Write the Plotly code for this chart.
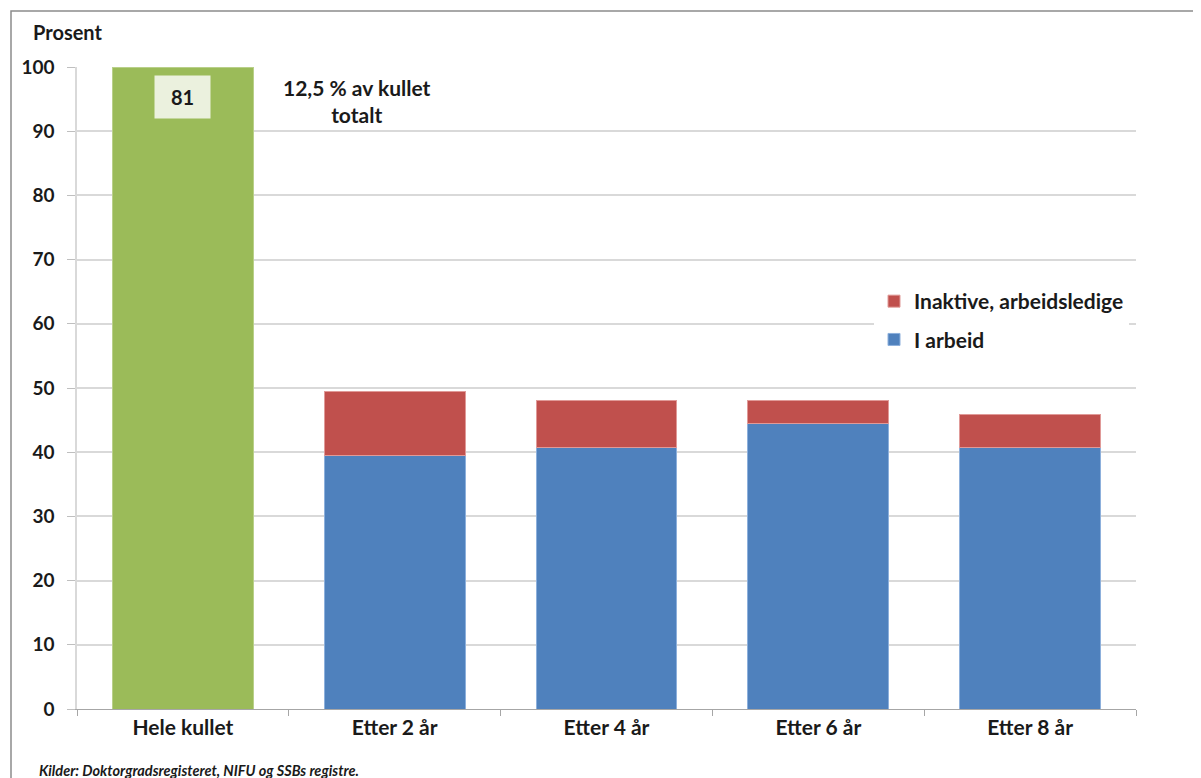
import plotly.graph_objects as go

categories = ["Hele kullet", "Etter 2 år", "Etter 4 år", "Etter 6 år", "Etter 8 år"]
hele_kullet = [100, None, None, None, None]
i_arbeid = [None, 39.5, 40.8, 44.5, 40.8]
inaktive = [None, 10.0, 7.3, 3.6, 5.0]
label_hele = "81"
note_text = "12,5 % av kullet<br>totalt"
y_ticks = list(range(0, 101, 10))

FONT = "Lato"
OFF = 8  # page body margin
W, H = 1201 - OFF, 778 - OFF
# plot area in window pixels: x 77..1136, y 67..709
L, T = 77 - OFF, 67 - OFF
R, B = W - (1136 - OFF), H - (709 - OFF)
pw, ph = W - L - R, H - T - B

def px_x(px):
    return (px - 77) / pw

def px_y(py):
    return (709 - py) / ph

fig = go.Figure()
fig.add_trace(go.Bar(x=categories, y=hele_kullet, marker=dict(color="#9bbb59", line=dict(color="#b9d08a", width=1)),
                     showlegend=False, name="Hele kullet"))
fig.add_trace(go.Bar(x=categories, y=i_arbeid, marker=dict(color="#4f81bd", line=dict(color="#8db0dc", width=1)),
                     name="I arbeid", legendgroup="a", legendrank=2))
fig.add_trace(go.Bar(x=categories, y=inaktive, marker=dict(color="#c0504d", line=dict(color="#e09a98", width=1)),
                     name="Inaktive, arbeidsledige", legendgroup="b", legendrank=1))

fig.update_layout(
    width=W, height=H,
    barmode="stack", bargap=0.335,
    margin=dict(l=L, r=R, t=T, b=B),
    paper_bgcolor="white", plot_bgcolor="white",
    font=dict(family=FONT, size=20, color="#1a1a1a"),
    legend=dict(x=px_x(874), y=px_y(281), xanchor="left", yanchor="top",
                bgcolor="white", traceorder="grouped", tracegroupgap=8,
                font=dict(family=FONT, size=21, color="#1a1a1a", weight="bold")),
    xaxis=dict(showline=True, linecolor="#a6a6a6", linewidth=1, ticks="outside", tickson="boundaries",
               ticklen=6, tickcolor="#a6a6a6", showgrid=False,
               tickfont=dict(family=FONT, size=21, weight="bold", color="#1a1a1a")),
    yaxis=dict(range=[0, 100], tickvals=y_ticks, showgrid=True, gridcolor="#d9d9d9", gridwidth=2,
               showline=True, linecolor="#d9d9d9", linewidth=1.5, ticks="outside", ticklen=8,
               tickcolor="#bfbfbf", zeroline=False, ticklabelstandoff=9,
               tickfont=dict(family=FONT, size=19, weight="bold", color="#1a1a1a")),
)

# outer frame
fig.add_shape(type="rect", xref="paper", yref="paper",
              x0=px_x(11), x1=px_x(1203), y0=px_y(800), y1=px_y(11),
              line=dict(color="#8c8c8c", width=1.5), layer="below")

fig.add_annotation(xref="paper", yref="paper", x=px_x(31), y=px_y(32), xanchor="left", yanchor="middle",
                   text="<b>Prosent</b>", showarrow=False, font=dict(family=FONT, size=20, color="#1a1a1a"))
fig.add_annotation(x=categories[0], y=95.3, text="<b>" + label_hele + "</b>", showarrow=False,
                   bgcolor="#ebf1de", width=45, height=32, borderpad=5,
                   font=dict(family=FONT, size=20, color="#1a1a1a"))
fig.add_annotation(xref="paper", yref="paper", x=px_x(357), y=px_y(101), xanchor="center", yanchor="middle",
                   text="<b>" + note_text + "</b>", showarrow=False,
                   font=dict(family=FONT, size=21, color="#1a1a1a"))
fig.add_annotation(xref="paper", yref="paper", x=px_x(37), y=px_y(770), xanchor="left", yanchor="middle",
                   text="<b><i>Kilder: Doktorgradsregisteret, NIFU og SSBs registre.</i></b>", showarrow=False,
                   font=dict(family=FONT, size=14.5, color="#1a1a1a"))

fig.write_html("out.html")
